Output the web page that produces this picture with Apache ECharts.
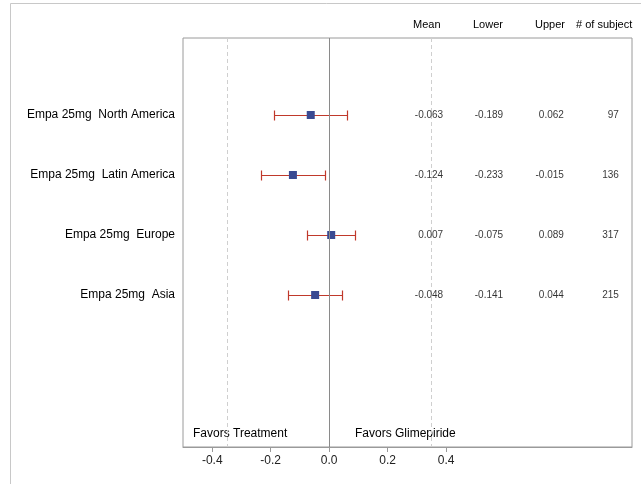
<!DOCTYPE html>
<html>
<head>
<meta charset="utf-8">
<script src="https://cdn.jsdelivr.net/npm/echarts@6/dist/echarts.min.js"></script>
<style>
html,body{margin:0;padding:0;background:#fff;}
#chart{width:641px;height:484px;}
</style>
</head>
<body>
<div id="chart"></div>
<script>
// ---- data ----
const categories = ['Empa 25mg  North America', 'Empa 25mg  Latin America', 'Empa 25mg  Europe', 'Empa 25mg  Asia'];
const means  = [-0.063, -0.124, 0.007, -0.048];
const lowers = [-0.189, -0.233, -0.075, -0.141];
const uppers = [0.062, -0.015, 0.089, 0.044];
const subjects = [97, 136, 317, 215];
const xTicks = [-0.4, -0.2, 0.0, 0.2, 0.4];
const refLines = [-0.35, 0.35];
const headers = ['Mean', 'Lower', 'Upper', '# of subject'];

// ---- layout (not data) ----
const colX = [0.39, 0.595, 0.803, 0.991]; // right edges of table columns in axis units
const font = '"Liberation Sans", Arial, sans-serif';
const barColor = '#c0392b';
const markColor = '#3a4a92';

const rows = categories.map((c, i) => i + 1);

function colSeries(values, x, fmt) {
  return {
    type: 'scatter',
    symbolSize: 0,
    silent: true,
    data: values.map((v, i) => [x, rows[i], fmt(v)]),
    label: {
      show: true, position: 'left', distance: 0, align: 'right',
      formatter: p => p.data[2],
      fontFamily: font, fontSize: 10, color: '#000'
    },
    z: 5
  };
}

const chart = echarts.init(document.getElementById('chart'), null, {renderer: 'canvas'});
chart.setOption({
  animation: false,
  backgroundColor: '#fff',
  textStyle: {fontFamily: font},
  grid: {left: 183, right: 9, top: 38, bottom: 37, show: true, borderColor: '#9a9a9a', borderWidth: 1, backgroundColor: 'transparent'},
  xAxis: {
    type: 'value', min: -0.5, max: 1.036, position: 'bottom',
    axisLine: {show: true, onZero: false, lineStyle: {color: '#9a9a9a'}},
    axisTick: {show: true, customValues: xTicks, length: 5, lineStyle: {color: '#9a9a9a'}},
    axisLabel: {show: true, customValues: xTicks, formatter: v => v.toFixed(1), fontSize: 12, color: '#222', margin: 8, fontFamily: font},
    splitLine: {show: false}
  },
  yAxis: {
    type: 'value', inverse: true, min: -0.283, max: 6.533,
    axisLine: {show: false, onZero: false},
    axisTick: {show: false},
    axisLabel: {show: true, customValues: rows, formatter: v => categories[Math.round(v) - 1] || '', fontSize: 12, color: '#000', margin: 8, fontFamily: font},
    splitLine: {show: false}
  },
  graphic: [
    {type: 'rect', shape: {x: 10.5, y: 3.5, width: 800, height: 800}, style: {fill: 'none', stroke: '#c8c8c8', lineWidth: 1}, z: -10, silent: true},
    ...headers.map((h, i) => ({
      type: 'text', left: [413, 473, 535, 576][i], top: 19,
      style: {text: h, font: '11px ' + font, fill: '#000'}, silent: true
    })),
    {type: 'text', left: 193, top: 428, style: {text: 'Favors Treatment', font: '12px ' + font, fill: '#000'}, silent: true},
    {type: 'text', left: 355, top: 428, style: {text: 'Favors Glimepiride', font: '12px ' + font, fill: '#000'}, silent: true}
  ],
  series: [
    {
      type: 'custom',
      silent: true,
      data: rows.map((r, i) => [lowers[i], uppers[i], r]),
      renderItem: (params, api) => {
        const a = api.coord([api.value(0), api.value(2)]);
        const b = api.coord([api.value(1), api.value(2)]);
        const y = Math.round(a[1]) + 0.5;
        const x1 = Math.round(a[0]) + 0.5, x2 = Math.round(b[0]) + 0.5;
        const cap = 5;
        const st = {stroke: barColor, lineWidth: 1.2, fill: null};
        return {type: 'group', children: [
          {type: 'line', shape: {x1: x1, y1: y, x2: x2, y2: y}, style: st},
          {type: 'line', shape: {x1: x1, y1: y - cap, x2: x1, y2: y + cap}, style: st},
          {type: 'line', shape: {x1: x2, y1: y - cap, x2: x2, y2: y + cap}, style: st}
        ]};
      },
      z: 3
    },
    {
      type: 'scatter',
      symbol: 'rect', symbolSize: 8,
      itemStyle: {color: markColor, opacity: 1},
      data: rows.map((r, i) => [means[i], r]),
      z: 4,
      markLine: {
        silent: true, symbol: 'none', label: {show: false},
        data: [
          ...refLines.map(v => ({xAxis: v, lineStyle: {color: '#cfcfcf', type: [4, 3], width: 1}})),
          {xAxis: 0, lineStyle: {color: '#8a8a8a', type: 'solid', width: 1}}
        ]
      }
    },
    colSeries(means, colX[0], v => v.toFixed(3)),
    colSeries(lowers, colX[1], v => v.toFixed(3)),
    colSeries(uppers, colX[2], v => v.toFixed(3)),
    colSeries(subjects, colX[3], v => String(v))
  ]
});
</script>
</body>
</html>
